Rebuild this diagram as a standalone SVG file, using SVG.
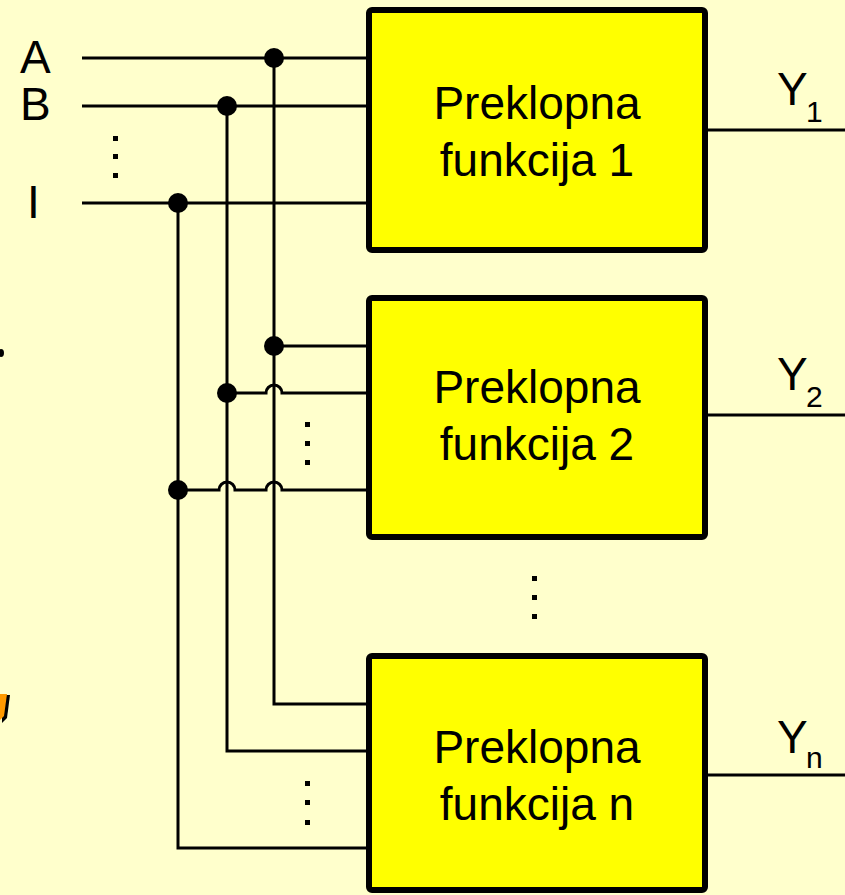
<svg xmlns="http://www.w3.org/2000/svg" width="845" height="895" viewBox="0 0 845 895">
<style>
.w{fill:none;stroke:#000;stroke-width:3}
.box{fill:#FFFF00;stroke:#000;stroke-width:6;stroke-linejoin:round}
.t{font-family:"Liberation Sans",Arial,sans-serif;font-size:46px;fill:#000}
.s{font-family:"Liberation Sans",Arial,sans-serif;font-size:30px;fill:#000}
.c{text-anchor:middle}
.d{fill:#000}
</style>
<rect width="845" height="895" fill="#FFFFCC"/>
<g id="edge-artifacts">
<ellipse cx="1" cy="353" rx="3" ry="4" fill="#000"/>
<path d="M2,695 L10,695 L7,718 L2,723 Z" fill="#000"/>
<path d="M0,694 L7,694 L4,716 L0,720 Z" fill="#FF9900"/>
</g>
<g id="labels">
<text class="t" x="20" y="73">A</text>
<text class="t" x="20" y="120">B</text>
<text class="t" x="27" y="218">I</text>
<rect class="d" x="113" y="136" width="5" height="5"/>
<rect class="d" x="113" y="154" width="5" height="5"/>
<rect class="d" x="113" y="173" width="5" height="5"/>
</g>
<g id="connectors">
<path class="w" d="M82,58 H369"/>
<path class="w" d="M82,106 H369"/>
<path class="w" d="M82,203 H369"/>
<path class="w" d="M274,58 V704 H369"/>
<path class="w" d="M227,106 V751 H369"/>
<path class="w" d="M178,203 V848 H369"/>
<path class="w" d="M274,346 H369"/>
<path class="w" d="M227,393 H266 A8,8 0 0 1 282,393 H369"/>
<path class="w" d="M178,490 H219 A8,8 0 0 1 235,490 H266 A8,8 0 0 1 282,490 H369"/>
<path class="w" d="M705,130 H845"/>
<path class="w" d="M705,415 H845"/>
<path class="w" d="M705,775 H845"/>
<circle class="d" cx="274" cy="58" r="10"/>
<circle class="d" cx="227" cy="106" r="10"/>
<circle class="d" cx="178" cy="203" r="10"/>
<circle class="d" cx="274" cy="346" r="10"/>
<circle class="d" cx="227" cy="393" r="10"/>
<circle class="d" cx="178" cy="490" r="10"/>
<rect class="d" x="305" y="422" width="5" height="5"/>
<rect class="d" x="305" y="441" width="5" height="5"/>
<rect class="d" x="305" y="460" width="5" height="5"/>
<rect class="d" x="305" y="781" width="5" height="5"/>
<rect class="d" x="305" y="800" width="5" height="5"/>
<rect class="d" x="305" y="820" width="5" height="5"/>
<rect class="d" x="532" y="576" width="5" height="5"/>
<rect class="d" x="532" y="595" width="5" height="5"/>
<rect class="d" x="532" y="614" width="5" height="5"/>
</g>
<g id="f1">
<rect class="box" x="369" y="10" width="336" height="240" rx="3"/>
<text class="t c" x="537" y="119">Preklopna</text>
<text class="t c" x="537" y="176">funkcija 1</text>
</g>
<g id="f2">
<rect class="box" x="369" y="298" width="336" height="239" rx="3"/>
<text class="t c" x="537" y="403">Preklopna</text>
<text class="t c" x="537" y="460">funkcija 2</text>
</g>
<g id="fn">
<rect class="box" x="369" y="656" width="336" height="234" rx="3"/>
<text class="t c" x="537" y="763">Preklopna</text>
<text class="t c" x="537" y="820">funkcija n</text>
</g>
<g id="outputs">
<text class="t" x="777" y="105">Y</text><text class="s" x="806" y="122">1</text>
<text class="t" x="777" y="390">Y</text><text class="s" x="806" y="407">2</text>
<text class="t" x="777" y="753">Y</text><text class="s" x="806" y="768">n</text>
</g>
</svg>
